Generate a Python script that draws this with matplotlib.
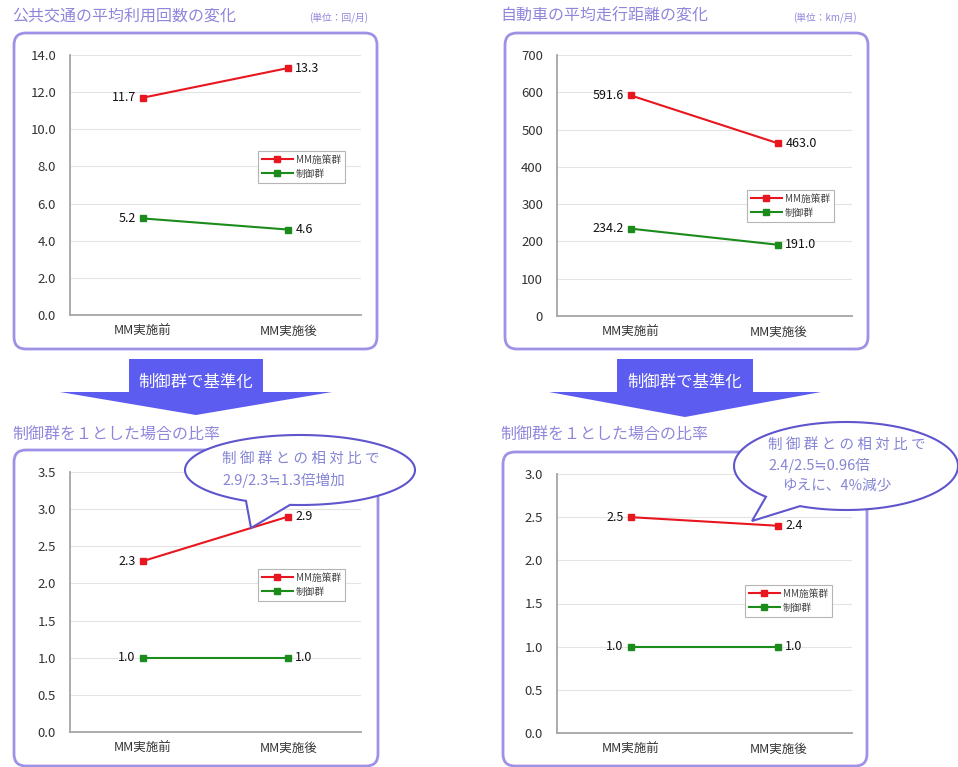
import matplotlib
matplotlib.use("Agg")
import matplotlib.pyplot as plt
from matplotlib.patches import FancyBboxPatch, Polygon
import numpy as np

plt.rcParams['font.family'] = ['Noto Sans CJK JP', 'DejaVu Sans']

W, H = 958, 767

# ---- data ----
categories = ['MM実施前', 'MM実施後']
series_names = ['MM施策群', '制御群']

transit_mm = [11.7, 13.3]
transit_ctrl = [5.2, 4.6]
distance_mm = [591.6, 463.0]
distance_ctrl = [234.2, 191.0]
transit_ratio_mm = [2.3, 2.9]
transit_ratio_ctrl = [1.0, 1.0]
distance_ratio_mm = [2.5, 2.4]
distance_ratio_ctrl = [1.0, 1.0]

title_transit = '公共交通の平均利用回数の変化'
title_distance = '自動車の平均走行距離の変化'
unit_transit = '(単位：回/月)'
unit_distance = '(単位：km/月)'
title_ratio = '制御群を１とした場合の比率'
arrow_text = '制御群で基準化'
note_transit = ['制 御 群 と の 相 対 比 で', '2.9/2.3≒1.3倍増加']
note_distance = ['制 御 群 と の 相 対 比 で', '2.4/2.5≒0.96倍', 'ゆえに、4%減少']

RED = '#e8161e'
GREEN = '#1b8c1b'
LAV = '#8f86dc'
BOX_EDGE = '#9d92e6'
ARROW = '#5d5cf0'
BUBBLE_EDGE = '#5f55cc'
BUBBLE_TEXT = '#8585d6'

fig = plt.figure(figsize=(W / 100, H / 100), dpi=100)
fig.patch.set_facecolor('white')


def pixel_axes(l, t, r, b, z):
    ax = fig.add_axes([l / W, 1 - b / H, (r - l) / W, (b - t) / H], zorder=z)
    return ax


# background layer: frames, titles, arrows
bg = pixel_axes(0, 0, W, H, 0)
bg.set_xlim(0, W)
bg.set_ylim(H, 0)
bg.axis('off')

# overlay layer: speech bubbles
ov = pixel_axes(0, 0, W, H, 10)
ov.set_xlim(0, W)
ov.set_ylim(H, 0)
ov.axis('off')
ov.patch.set_visible(False)


def frame(x0, y0, x1, y1):
    bg.add_patch(FancyBboxPatch((x0, y0), x1 - x0, y1 - y0,
                                boxstyle='round,pad=0,rounding_size=12',
                                fc='white', ec=BOX_EDGE, lw=2))


frame(14, 33, 377, 349)
frame(505, 33, 868, 349)
frame(14, 450, 378, 766)
frame(503, 452, 867, 766)

for x, txt in [(12, title_transit), (500, title_distance)]:
    bg.text(x, 16, txt, fontsize=11.5, color=LAV, va='center', ha='left')
bg.text(309, 18, unit_transit, fontsize=7, color=LAV, va='center', ha='left')
bg.text(793, 18, unit_distance, fontsize=7, color=LAV, va='center', ha='left')
for x in (12, 500):
    bg.text(x, 434, title_ratio, fontsize=11.5, color=LAV, va='center', ha='left')


def down_arrow(cx, y_top, y_mid, y_tip, half_rect, half_head):
    pts = [(cx - half_rect, y_top), (cx + half_rect, y_top), (cx + half_rect, y_mid),
           (cx + half_head, y_mid), (cx, y_tip), (cx - half_head, y_mid),
           (cx - half_rect, y_mid)]
    bg.add_patch(Polygon(pts, closed=True, fc=ARROW, ec='none'))
    bg.text(cx, 382, arrow_text, fontsize=11.8, color='white', ha='center',
            va='center')


down_arrow(196, 359, 392, 415, 67, 136)
down_arrow(685, 359, 392, 417, 68, 136)


def panel(rect, mm, ctrl, ymax, step, tick_fmt, legend_xy):
    ax = pixel_axes(*rect, 5)
    ax.patch.set_visible(False)
    x = np.arange(len(categories))
    ax.plot(x, mm, color=RED, lw=1.5, marker='s', ms=4.5, label=series_names[0])
    ax.plot(x, ctrl, color=GREEN, lw=1.5, marker='s', ms=4.5, label=series_names[1])
    for vals in (mm, ctrl):
        ax.annotate(f'{vals[0]:.1f}', (x[0], vals[0]), xytext=(-7, 0),
                    textcoords='offset pixels', ha='right', va='center',
                    fontsize=9, color='#111111')
        ax.annotate(f'{vals[1]:.1f}', (x[1], vals[1]), xytext=(7, 0),
                    textcoords='offset pixels', ha='left', va='center',
                    fontsize=9, color='#111111')
    ax.set_xlim(-0.5, len(categories) - 0.5)
    ax.set_ylim(0, ymax)
    ticks = np.arange(0, ymax + step / 2, step)
    ax.set_yticks(ticks)
    ax.set_yticklabels([tick_fmt.format(t) for t in ticks])
    ax.set_xticks(x)
    ax.set_xticklabels(categories)
    ax.tick_params(axis='both', length=0, colors='#333333')
    ax.tick_params(axis='y', pad=10, labelsize=9.5)
    ax.tick_params(axis='x', pad=7, labelsize=9)
    ax.yaxis.grid(True, color='#e4e4e4', lw=0.8)
    ax.set_axisbelow(True)
    for s in ('top', 'right'):
        ax.spines[s].set_visible(False)
    for s in ('left', 'bottom'):
        ax.spines[s].set_color('#a5a5a5')
        ax.spines[s].set_linewidth(1.3)
    leg = ax.legend(loc='upper left', bbox_to_anchor=(legend_xy[0] / W, 1 - legend_xy[1] / H),
                    bbox_transform=fig.transFigure, fontsize=7, frameon=True,
                    fancybox=False, edgecolor='#b5b5b5', framealpha=1,
                    handlelength=3.2, handletextpad=0.3, borderpad=0.4,
                    labelspacing=0.4)
    leg.get_frame().set_linewidth(0.8)
    for t in leg.get_texts():
        t.set_color('#444444')
    return ax


panel((70, 55, 361, 315), transit_mm, transit_ctrl, 14, 2, '{:.1f}', (253, 146))
panel((557, 55, 852, 316), distance_mm, distance_ctrl, 700, 100, '{:.0f}', (742, 185))
panel((70, 472, 361, 732), transit_ratio_mm, transit_ratio_ctrl, 3.5, 0.5, '{:.1f}', (253, 564))
panel((557, 474, 852, 733), distance_ratio_mm, distance_ratio_ctrl, 3.0, 0.5, '{:.1f}', (740, 580))


def bubble(cx, cy, a, b, xb_left, xb_right, tip):
    th1 = np.arccos((xb_left - cx) / a)
    th2 = np.arccos((xb_right - cx) / a) + 2 * np.pi
    th = np.linspace(th1, th2, 200)
    pts = list(zip(cx + a * np.cos(th), cy + b * np.sin(th)))
    pts.append(tip)
    ov.add_patch(Polygon(pts, closed=True, fc='white', ec=BUBBLE_EDGE, lw=1.5))


bubble(300, 470, 115, 35, 246, 290, (251, 528))
for i, line in enumerate(note_transit):
    ov.text(222, 459 + i * 21, line, fontsize=10.5, color=BUBBLE_TEXT,
            ha='left', va='center')

bubble(846, 466, 112, 44, 766, 800, (752, 521))
for i, (line, x) in enumerate(zip(note_distance, (768, 768, 782))):
    ov.text(x, 445 + i * 20, line, fontsize=10.5, color=BUBBLE_TEXT,
            ha='left', va='center')

fig.savefig('out.png', dpi=100, facecolor='white')
